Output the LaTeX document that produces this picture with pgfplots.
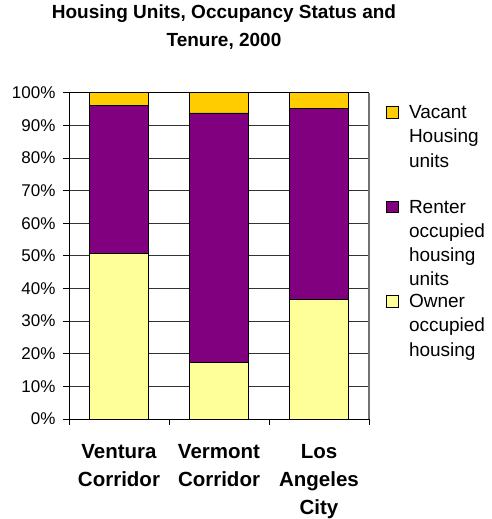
\documentclass[border=0pt]{standalone}
\usepackage{pgfplots}
\pgfplotsset{compat=1.18}
\usepackage{fontspec}
\setmainfont{Liberation Sans}
\definecolor{vac}{HTML}{FFCC00}
\definecolor{ren}{HTML}{800080}
\definecolor{own}{HTML}{FFFF99}
\newcommand\legtext[1]{\parbox[t]{90pt}{\fontsize{19pt}{24.3pt}\selectfont #1}}
\begin{document}
\begin{tikzpicture}[x=1pt,y=1pt]
\useasboundingbox (0,0) rectangle (491,519);
\node[anchor=base, font=\fontsize{19}{23}\selectfont\bfseries] at (224,500) {Housing Units, Occupancy Status and};
\node[anchor=base, font=\fontsize{19}{23}\selectfont\bfseries] at (224,472) {Tenure, 2000};
\begin{axis}[
  at={(69pt,100pt)}, anchor=south west,
  scale only axis, width=300pt, height=326.3pt,
  ybar stacked, bar width=59pt,
  xmin=-0.5, xmax=2.5, ymin=0, ymax=100,
  ytick={0,10,...,100},
  yticklabel={\pgfmathprintnumber{\tick}\%},
  xtick={-0.5,0.5,1.5,2.5}, xticklabels={},
  extra x ticks={0,1,2},
  extra x tick labels={{Ventura\\Corridor},{Vermont\\Corridor},{Los\\Angeles\\City}},
  extra x tick style={major tick length=0pt},
  xticklabel style={font=\fontsize{20.5}{28}\selectfont\bfseries, align=center, yshift=-22pt},
  yticklabel style={font=\fontsize{17}{20}\selectfont, xshift=-4pt},
  /pgf/number format/assume math mode=true,
  tick align=outside, tick pos=left, major tick length=6pt,
  ymajorgrids, major grid style={black!80, line width=0.8pt},
  axis line style={black, line width=0.9pt},
  tick style={black, line width=0.8pt},
  axis x line*=bottom, axis y line*=left,
  reverse legend,
  legend image code/.code={\draw[#1] (0pt,0.5pt) rectangle (12pt,12pt);},
  legend style={draw=none, fill=none, inner sep=0pt, at={(1.0567,0.9592)}, anchor=north west,
    cells={anchor=base west}, column sep=10pt, row sep=0pt, nodes={inner sep=0pt}},
  after end axis/.code={\draw[black!55, line width=1.6pt] (rel axis cs:1,0) -- (rel axis cs:1,1);
     \draw[black, line width=0.9pt] (rel axis cs:0,1) -- (rel axis cs:1,1);},
]
\addplot[fill=own, draw=black, line width=0.8pt] coordinates {(0,50.8) (1,17.4) (2,36.5)};
\addlegendentry[text height=12pt, text depth=0pt]{\smash{\legtext{Owner\\occupied\\housing}}}
\addplot[fill=ren, draw=black, line width=0.8pt] coordinates {(0,45.4) (1,76.4) (2,58.7)};
\addlegendentry[text height=12pt, text depth=82pt]{\smash{\legtext{Renter\\occupied\\housing\\units}}}
\addplot[fill=vac, draw=black, line width=0.8pt] coordinates {(0,3.8) (1,6.2) (2,4.8)};
\addlegendentry[text height=12pt, text depth=82pt]{\smash{\legtext{Vacant\\Housing\\units}}}
\end{axis}
\end{tikzpicture}
\end{document}
